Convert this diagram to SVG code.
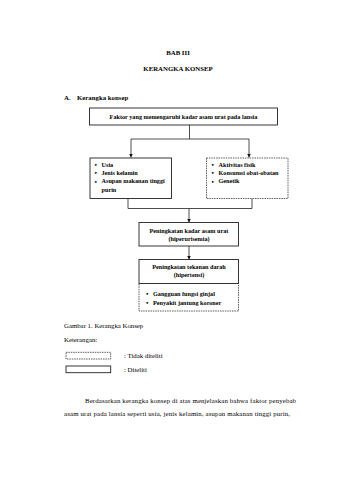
<svg xmlns="http://www.w3.org/2000/svg" width="339" height="480" viewBox="0 0 339 480">
<defs>
<style>
.bg{fill:#ffffff}
.t{font-family:"Liberation Serif","Times New Roman",serif;fill:#000000}
.h{font-size:6.8px;font-weight:bold}
.b{font-size:6.2px;font-weight:bold}
.r{font-size:6.8px}
.bul{font-size:7px;font-weight:bold}
.box{fill:#ffffff;stroke:#222222;stroke-width:0.9}
.dash{fill:#ffffff;stroke:#333333;stroke-width:0.8;stroke-dasharray:1.5 0.9}
.ln{fill:none;stroke:#222222;stroke-width:0.8}
</style>
<marker id="arr" viewBox="0 0 6 6" refX="6" refY="3" markerWidth="3.6" markerHeight="3.6" orient="auto" markerUnits="userSpaceOnUse">
<path d="M0,0 L6,3 L0,6 Z" fill="#111111"/>
</marker>
</defs>
<rect class="bg" x="0" y="0" width="339" height="480"/>

<g id="headings">
<text class="t h" x="178" y="55" text-anchor="middle">BAB III</text>
<text class="t h" x="178" y="70.5" text-anchor="middle">KERANGKA KONSEP</text>
<text class="t h" x="64" y="99.5">A.</text>
<text class="t h" x="77" y="99.5">Kerangka konsep</text>
</g>

<g id="connectors">
<path class="ln" d="M189.5,125 V139 M131,139 H249"/>
<path class="ln" d="M131,139 V157.5" marker-end="url(#arr)"/>
<path class="ln" d="M249,139 V157.5" marker-end="url(#arr)"/>
<path class="ln" d="M128,198.5 V208.5 H252 V198.5"/>
<path class="ln" d="M189,208.5 V222.5" marker-end="url(#arr)"/>
<path class="ln" d="M189,246 V259.5" marker-end="url(#arr)"/>
</g>

<g id="node-faktor">
<rect class="box" x="89.5" y="108" width="188" height="17"/>
<text class="t b" x="183.5" y="118.8" text-anchor="middle">Faktor yang memengaruhi kadar asam urat pada lansia</text>
</g>

<g id="node-diteliti">
<rect class="box" x="90" y="158" width="81.5" height="40.5"/>
<text class="t bul" x="94.5" y="167.2">•</text>
<text class="t b" x="101.5" y="167">Usia</text>
<text class="t bul" x="94.5" y="175.4">•</text>
<text class="t b" x="101.5" y="175.2">Jenis kelamin</text>
<text class="t bul" x="94.5" y="183.6">•</text>
<text class="t b" x="101.5" y="183.4">Asupan makanan tinggi</text>
<text class="t b" x="101.5" y="191.6">purin</text>
</g>

<g id="node-tidak-diteliti">
<rect class="dash" x="206.5" y="158" width="81.5" height="40.5"/>
<text class="t bul" x="211.5" y="167.2">•</text>
<text class="t b" x="218.5" y="167">Aktivitas fisik</text>
<text class="t bul" x="211.5" y="175.4">•</text>
<text class="t b" x="218.5" y="175.2">Konsumsi obat-obatan</text>
<text class="t bul" x="211.5" y="183.6">•</text>
<text class="t b" x="218.5" y="183.4">Genetik</text>
</g>

<g id="node-hiperurisemia">
<rect class="box" x="139" y="222.5" width="99.5" height="23.5"/>
<text class="t b" x="189" y="232.6" text-anchor="middle">Peningkatan kadar asam urat</text>
<text class="t b" x="189" y="240.6" text-anchor="middle">(hiperurisemia)</text>
</g>

<g id="node-komplikasi">
<rect class="dash" x="139" y="283.5" width="99.5" height="27.5"/>
<text class="t bul" x="146" y="295.8">•</text>
<text class="t b" x="153" y="295.6">Gangguan fungsi ginjal</text>
<text class="t bul" x="146" y="304.8">•</text>
<text class="t b" x="153" y="304.6">Penyakit jantung koroner</text>
</g>

<g id="node-hipertensi">
<rect class="box" x="139" y="259.5" width="99.5" height="24"/>
<text class="t b" x="189" y="269.1" text-anchor="middle">Peningkatan tekanan darah</text>
<text class="t b" x="189" y="276.6" text-anchor="middle">(hipertensi)</text>
</g>

<g id="caption">
<text class="t r" x="64" y="328.3">Gambar 1. Kerangka Konsep</text>
<text class="t r" x="64" y="342">Keterangan:</text>
</g>

<g id="legend">
<rect class="dash" x="66" y="352.3" width="44.7" height="6.7"/>
<text class="t r" x="124" y="358.3">: Tidak diteliti</text>
<rect class="box" x="66" y="366" width="44.7" height="6.7"/>
<text class="t r" x="124" y="372">: Diteliti</text>
</g>

<g id="paragraph">
<text class="t r" x="85" y="403" textLength="211" lengthAdjust="spacing">Berdasarkan kerangka konsep di atas menjelaskan bahwa faktor penyebab</text>
<text class="t r" x="64" y="416" textLength="226" lengthAdjust="spacing">asam urat pada lansia seperti usia, jenis kelamin, asupan makanan tinggi purin,</text>
</g>
</svg>
